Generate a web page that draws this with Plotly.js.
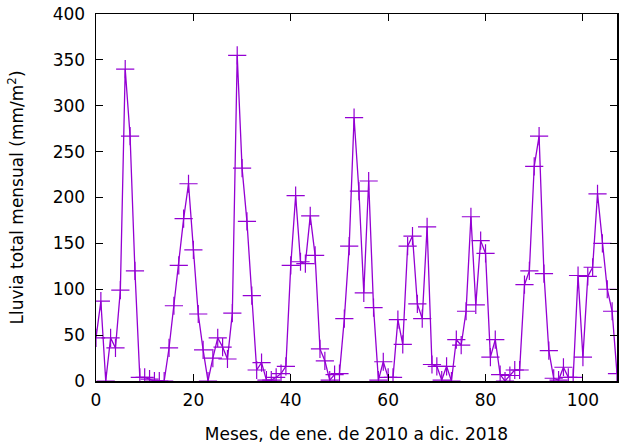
<!DOCTYPE html>
<html>
<head>
<meta charset="utf-8">
<script src="https://cdn.plot.ly/plotly-3.0.1.min.js"></script>
<style>html,body{margin:0;padding:0;background:#fff;}#chart{width:621px;height:444px;}</style>
</head>
<body>
<div id="chart"></div>
<script>
// Monthly rainfall (mm/m2), Jan 2010 .. Dec 2018, index 0..107
const rainfall = [
  47, 87, 0, 47, 36, 99, 340, 267, 120, 4, 4, 2,
  0, 0, 0, 36, 82, 126, 177, 215, 143, 73, 34, 0,
  25, 47, 37, 24, 74, 355, 232, 174, 93, 12, 20, 1,
  1, 4, 8, 16, 126, 202, 130, 128, 180, 137, 35, 22,
  1, 7, 8, 68, 147, 287, 207, 96, 218, 80, 1, 21,
  4, 4, 67, 40, 147, 158, 84, 68, 168, 18, 16, 1,
  16, 0, 45, 39, 76, 179, 83, 153, 139, 26, 45, 7,
  0, 6, 12, 12, 105, 120, 234, 267, 117, 33, 3, 1,
  15, 4, 4, 115, 26, 114, 124, 204, 150, 100, 76, 8
];
const months = rainfall.map((_, i) => i);
const xTitle = "Meses, de ene. de 2010 a dic. 2018";
const yTitle = "Lluvia total mensual (mm/m<sup>2</sup>)";

const trace = {
  x: months,
  y: rainfall,
  type: 'scatter',
  mode: 'lines+markers',
  line: {color: '#9400d3', width: 1.3},
  marker: {symbol: 'cross-thin', size: 13, line: {color: '#9400d3', width: 1.2}, color: '#9400d3'},
  showlegend: false,
  cliponaxis: true
};

const font = {family: 'DejaVu Sans, sans-serif', size: 17, color: '#000'};
const layout = {
  width: 621, height: 444,
  margin: {l: 96, r: 4, t: 14, b: 63},
  paper_bgcolor: '#fff', plot_bgcolor: '#fff',
  font: font,
  showlegend: false,
  xaxis: {
    range: [0, 107], dtick: 20, tick0: 0,
    ticks: 'inside', ticklen: 7, tickwidth: 1, tickcolor: '#000',
    showline: true, linecolor: '#000', linewidth: 1.5, mirror: 'ticks',
    showgrid: false, zeroline: false,
    tickfont: font, ticklabelstandoff: 3,
    title: {text: xTitle, font: font, standoff: 20},
    automargin: false
  },
  yaxis: {
    range: [0, 400], dtick: 50, tick0: 0,
    ticks: 'inside', ticklen: 7, tickwidth: 1, tickcolor: '#000',
    showline: true, linecolor: '#000', linewidth: 1.5, mirror: 'ticks',
    showgrid: false, zeroline: false,
    tickfont: font, ticklabelstandoff: 6,
    title: {text: yTitle, font: font, standoff: 24},
    automargin: false
  }
};

Plotly.newPlot('chart', [trace], layout, {displayModeBar: false, staticPlot: true});
</script>
</body>
</html>
